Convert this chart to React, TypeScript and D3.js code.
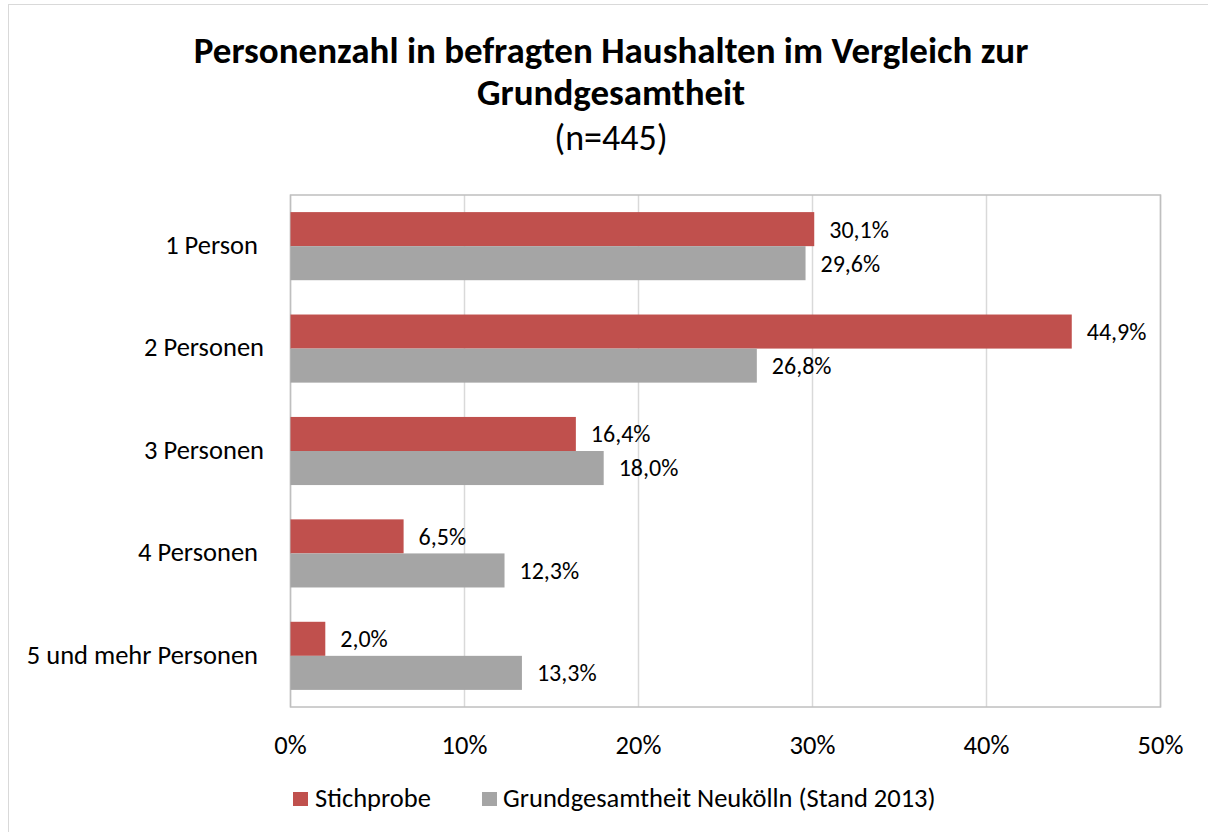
import React from "react";
import * as d3 from "d3";

const categories = ["1 Person ", "2 Personen", "3 Personen", "4 Personen ", "5 und mehr Personen "];
const seriesNames = ["Stichprobe", "Grundgesamtheit Neukölln (Stand 2013)"];
const stichprobe = [30.1, 44.9, 16.4, 6.5, 2.0];
const grundgesamtheit = [29.6, 26.8, 18.0, 12.3, 13.3];
const xTicks = [0, 10, 20, 30, 40, 50];
const colors = ["#c0504d", "#a5a5a5"];

const W = 1208;
const H = 832;
const font = "Carlito, Calibri, Lato, 'Open Sans', sans-serif";

const fmt = (v: number) => v.toFixed(1).replace(".", ",") + "%";

export default function App() {
    const left = 290.5, right = 1160.5, top = 195, bottom = 707;

    const x = d3.scaleLinear().domain([0, 50]).range([left, right]);
    const y = d3.scaleBand<string>().domain(categories).range([top, bottom]).paddingInner(0.335).paddingOuter(0.167);
    const inner = d3.scaleBand<number>().domain([0, 1]).range([0, y.bandwidth()]);

    const series = [stichprobe, grundgesamtheit];

    return (
        <svg width={W} height={H} style={{position: "absolute", left: 0, top: 0}} fontFamily={font}>
            <rect x={0} y={0} width={W} height={H} fill="#fff" />
            <rect x={8.5} y={4.5} width={1210} height={850} fill="none" stroke="#d9d9d9" />

            <text x={611} y={63} textAnchor="middle" fontSize={37} fontWeight="bold">
                Personenzahl in befragten Haushalten im Vergleich zur
            </text>
            <text x={611} y={105} textAnchor="middle" fontSize={37} fontWeight="bold">
                Grundgesamtheit
            </text>
            <text x={611} y={150} textAnchor="middle" fontSize={36}>(n=445)</text>

            {xTicks.map(t => (
                <line key={"g" + t} x1={x(t)} x2={x(t)} y1={top} y2={bottom} stroke="#d9d9d9" strokeWidth={1.5} />
            ))}
            <rect x={left} y={top} width={right - left} height={bottom - top} fill="none" stroke="#bfbfbf" strokeWidth={1.5} />

            {categories.map((c, i) => (
                <g key={c}>
                    <text x={264} y={y(c)! + y.bandwidth() / 2 - 1.5} dy="0.35em" textAnchor="end" fontSize={26.5}
                          style={{whiteSpace: "pre"}}>
                        {c}
                    </text>
                    {series.map((s, k) => {
                        const by = y(c)! + inner(k)!;
                        return (
                            <g key={k}>
                                <rect x={x(0)} y={by} width={x(s[i]) - x(0)} height={inner.bandwidth()} fill={colors[k]} />
                                <text x={x(s[i]) + 15} y={by + inner.bandwidth() / 2} dy="0.35em" fontSize={24}>
                                    {fmt(s[i])}
                                </text>
                            </g>
                        );
                    })}
                </g>
            ))}

            {xTicks.map(t => (
                <text key={"t" + t} x={x(t)} y={745} dy="0.35em" textAnchor="middle" fontSize={26.5}>
                    {t + "%"}
                </text>
            ))}

            <rect x={293} y={792} width={15} height={14} fill={colors[0]} />
            <text x={315} y={807} fontSize={26.5}>{seriesNames[0]}</text>
            <rect x={482} y={792} width={15} height={14} fill={colors[1]} />
            <text x={503} y={807} fontSize={26.5}>{seriesNames[1]}</text>
        </svg>
    );
}
